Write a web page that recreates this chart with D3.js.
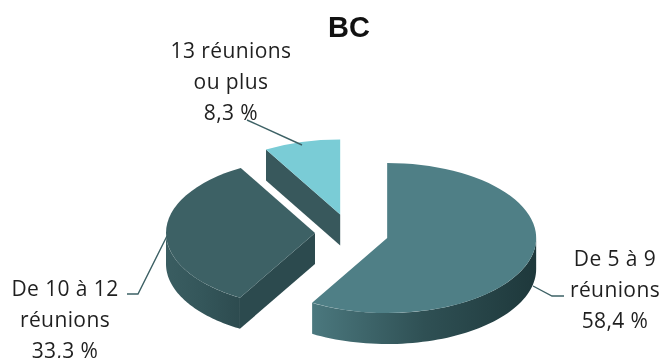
<!DOCTYPE html>
<html>
<head>
<meta charset="utf-8">
<style>
html,body{margin:0;padding:0;background:#fff;overflow:hidden}
svg{display:block;filter:blur(.35px)}
text{fill:#1f1f1f;text-anchor:middle}
.lab{font-family:"Open Sans",sans-serif;font-size:21px;letter-spacing:.4px}
.title{font-family:"Liberation Sans",Arial,sans-serif;font-size:29px;font-weight:700;fill:#111}
</style>
<script src="https://cdn.jsdelivr.net/npm/d3@7"></script>
</head>
<body>
<svg id="c" width="662" height="358"></svg>
<script>
const title = "BC";
const categories = ["De 5 à 9 réunions", "De 10 à 12 réunions", "13 réunions ou plus"];
const values = [58.4, 33.3, 8.3];
const valueLabels = ["58,4 %", "33,3 %", "8,3 %"];
const labelLines = [["De 5 à 9", "réunions"], ["De 10 à 12", "réunions"], ["13 réunions", "ou plus"]];
const topColors = ["#4f7f86", "#3d6165", "#7accd6"];
const wallStops = [["#4b787e", "#2f5054", "#1e383b"], ["#3a5d61", "#34565a", "#2d4b4f"], ["#38585c", "#38585c", "#38585c"]];
const flatWallColors = ["#2e4f53", "#2c4a4e", "#38585c"];

const layout = {
  cx: 350, cy: 233, rx: 149, ry: 75, depth: 31,
  explode: [38.5, 35, 38],
  labelX: [615, 65, 231], labelY: [266, 296, 58], lineGap: 31,
  leaders: [
    [[533, 286], [552, 296], [564, 296]],
    [[167, 236], [138, 294], [127, 294]],
    [[247, 120], [302, 145]]
  ]
};

const svg = d3.select("#c");
const defs = svg.append("defs");
const pie = d3.pie().sort(null).value(d => d);
const arcs = pie(values);
const k = layout.ry / layout.rx;
const arc = d3.arc().innerRadius(0).outerRadius(layout.rx);
const px = a => layout.rx * Math.sin(a);
const py = a => -layout.ry * Math.cos(a);
const PI = Math.PI;

d3.range(arcs.length).reverse().forEach(i => {
  const d = arcs[i];
  const mid = (d.startAngle + d.endAngle) / 2;
  const ox = layout.cx + layout.explode[i] * Math.sin(mid);
  const oy = layout.cy - layout.explode[i] * k * Math.cos(mid);
  const g = svg.append("g").attr("transform", `translate(${ox},${oy})`);

  if (Math.sin(d.startAngle) < -1e-6) {
    const a = d.startAngle;
    g.append("path")
      .attr("d", d3.line()([[0, 0], [px(a), py(a)], [px(a), py(a) + layout.depth], [0, layout.depth]]) + "Z")
      .attr("fill", flatWallColors[i]);
  }

  const a0 = Math.max(d.startAngle, PI / 2), a1 = Math.min(d.endAngle, 3 * PI / 2);
  if (a1 > a0) {
    const id = "wall" + i;
    const grad = defs.append("linearGradient").attr("id", id).attr("x1", 0).attr("x2", 1).attr("y1", 0).attr("y2", 0);
    const stops = wallStops[i];
    stops.forEach((c, j) => grad.append("stop").attr("offset", j / (stops.length - 1)).attr("stop-color", c));
    const samples = d3.range(0, 61).map(t => a0 + (a1 - a0) * t / 60);
    g.append("path")
      .attr("d", d3.area().x(px).y0(py).y1(a => py(a) + layout.depth)(samples))
      .attr("fill", `url(#${id})`);
  }

  g.append("g").attr("transform", `scale(1,${k})`)
    .append("path").attr("d", arc(d)).attr("fill", topColors[i]);
});

layout.leaders.forEach(pts => {
  svg.append("path").attr("d", d3.line()(pts))
    .attr("fill", "none").attr("stroke", "#3d6165").attr("stroke-width", 1.4);
});

labelLines.forEach((lines, i) => {
  lines.concat(valueLabels[i]).forEach((t, j) => {
    svg.append("text").attr("class", "lab")
      .attr("x", layout.labelX[i]).attr("y", layout.labelY[i] + j * layout.lineGap).text(t);
  });
});

svg.append("text").attr("class", "title").attr("x", 349).attr("y", 37).text(title);
</script>
</body>
</html>
